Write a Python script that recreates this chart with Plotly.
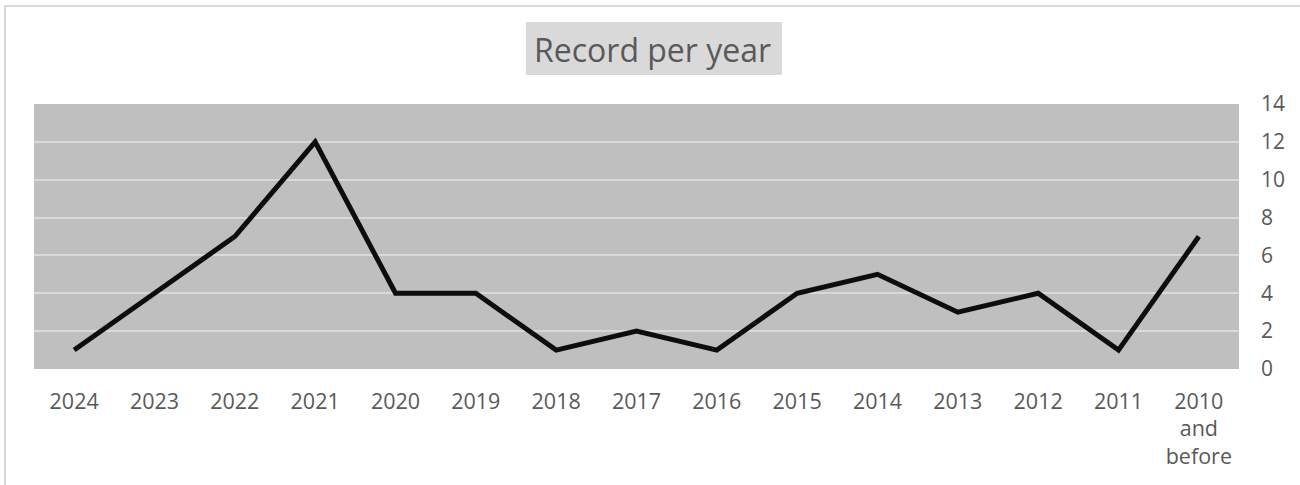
import plotly.graph_objects as go

categories = ["2024", "2023", "2022", "2021", "2020", "2019", "2018", "2017",
              "2016", "2015", "2014", "2013", "2012", "2011", "2010<br>and<br>before"]
records = [1, 4, 7, 12, 4, 4, 1, 2, 1, 4, 5, 3, 4, 1, 7]
y_ticks = [0, 2, 4, 6, 8, 10, 12, 14]

W, H = 1300, 485
L, R, T, B = 34, 61, 104, 116
pw, ph = W - L - R, H - T - B

def px_x(x):
    return (x - L) / pw

def px_y(y):
    return 1 - (y - T) / ph

fig = go.Figure()
fig.add_trace(go.Scatter(
    x=categories, y=records, mode="lines",
    line=dict(color="#0d0d0d", width=5),
    hoverinfo="skip", showlegend=False,
))

fig.update_layout(
    width=W, height=H,
    margin=dict(l=L, r=R, t=T, b=B, pad=0),
    paper_bgcolor="white",
    plot_bgcolor="#BFBFBF",
    font=dict(family="Open Sans", color="#595959", size=21),
    xaxis=dict(
        type="category", range=[-0.5, len(categories) - 0.5],
        showgrid=False, zeroline=False, showline=False,
        ticks="", tickfont=dict(size=21.5, color="#595959"),
        ticklabelstandoff=17,
    ),
    yaxis=dict(
        side="right", range=[0, 14], tickvals=y_ticks,
        showgrid=True, gridcolor="#D9D9D9", gridwidth=2,
        zeroline=False, showline=False, ticks="",
        tickfont=dict(size=21, color="#595959"),
        ticklabelstandoff=21,
    ),
    shapes=[
        dict(type="rect", xref="paper", yref="paper",
             x0=px_x(5), x1=px_x(1310), y0=px_y(495), y1=px_y(6),
             line=dict(color="#D9D9D9", width=2), fillcolor="rgba(0,0,0,0)",
             layer="below"),
        dict(type="rect", xref="paper", yref="paper",
             x0=px_x(526), x1=px_x(782), y0=px_y(75), y1=px_y(22),
             line=dict(width=0), fillcolor="#D9D9D9", layer="below"),
    ],
    annotations=[
        dict(text="Record per year", xref="paper", yref="paper",
             x=px_x(652), y=px_y(49), xanchor="center", yanchor="middle",
             showarrow=False, font=dict(size=32, color="#595959", family="Open Sans")),
    ],
)

fig.write_html("out.html")
